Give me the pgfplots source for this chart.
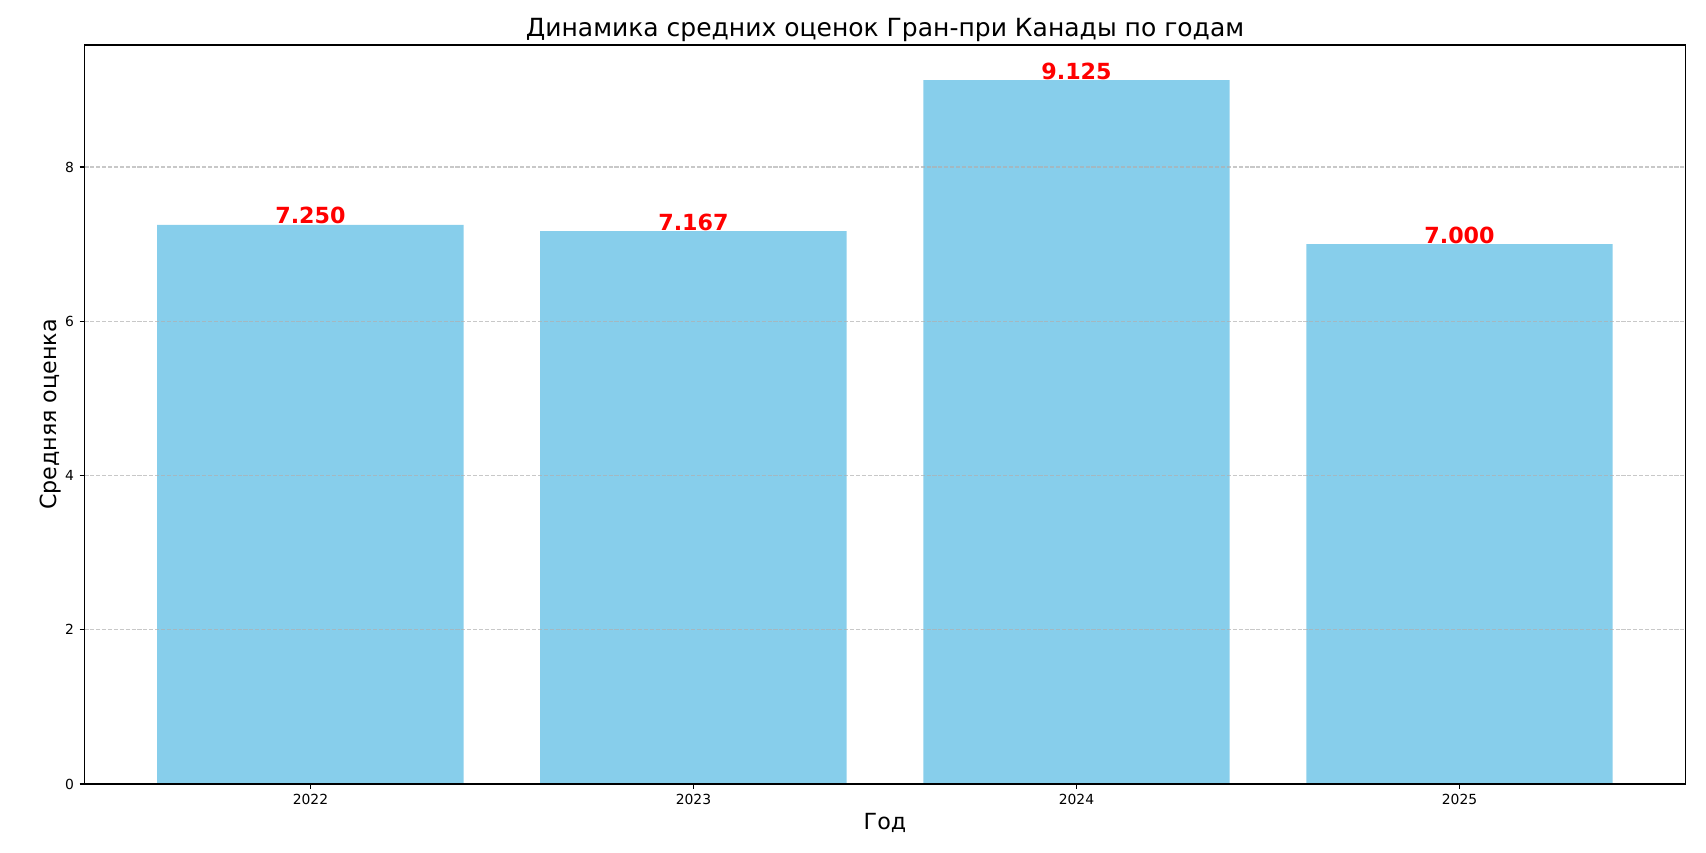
\documentclass[border=0pt]{standalone}
\usepackage{pgfplots}
\pgfplotsset{compat=1.18}
\usepackage{fontspec}
\setmainfont{DejaVu Sans}
\definecolor{skyblue}{HTML}{87CEEB}
\definecolor{gridc}{HTML}{B0B0B0}
\begin{document}
\begin{tikzpicture}
\path[use as bounding box] (-60.8pt,-49pt) rectangle (1167.5pt,564.5pt);
\begin{axis}[
  at={(0,0)}, anchor=south west,
  scale only axis, width=1152.7pt, height=532.1pt,
  xmin=-0.59, xmax=3.59, ymin=0, ymax=9.58125,
  xtick={0,1,2,3}, xticklabels={2022,2023,2024,2025},
  ytick={0,2,4,6,8},
  tick align=outside, xtick pos=bottom, ytick pos=left,
  major tick length=3.5pt,
  every tick/.style={black, line width=0.8pt},
  axis line style={line width=0.8pt},
  /pgf/number format/assume math mode=true,
  tick label style={font=\fontsize{10}{12}\selectfont},
  xticklabel style={anchor=base, yshift=-11pt, inner sep=0pt},
  yticklabel style={anchor=east, xshift=-3.8pt, inner sep=0pt},
  ymajorgrids,
  grid style={gridc, opacity=0.7, line width=0.8pt, dash pattern=on 2.96pt off 1.28pt},
  axis on top,
  ybar, bar width=0.8,
  title={Динамика средних оценок Гран-при Канады по годам},
  every axis title/.style={font=\fontsize{18}{22}\selectfont, at={(axis description cs:0.5,1)}, anchor=base, yshift=6pt},
  xlabel={Год},
  every axis x label/.style={font=\fontsize{16}{19}\selectfont, at={(axis description cs:0.5,-0.062)}, anchor=base},
  ylabel={Средняя оценка},
  every axis y label/.style={font=\fontsize{16}{19}\selectfont, at={(axis description cs:-0.0212,0.5)}, anchor=center, rotate=90},
]
\addplot[fill=skyblue, draw=none, nodes near coords, point meta=explicit symbolic,
  every node near coord/.append style={font=\fontsize{16}{19}\selectfont\bfseries, text=red, anchor=base, yshift=0.6pt, inner sep=0pt}]
  coordinates {(0,7.25)[7.250] (1,7.167)[7.167] (2,9.125)[9.125] (3,7.0)[7.000]};
\end{axis}
\end{tikzpicture}
\end{document}
